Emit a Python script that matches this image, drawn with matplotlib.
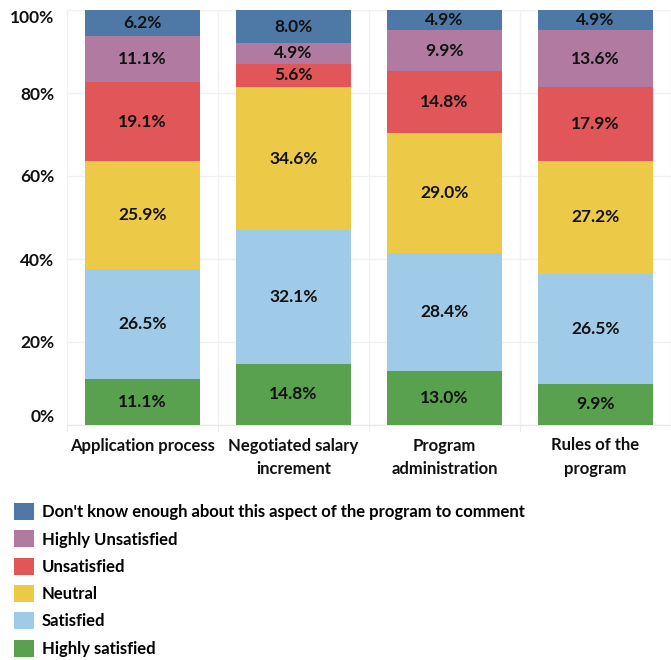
import matplotlib.pyplot as plt
import numpy as np

plt.rcParams['font.family'] = ['Lato', 'DejaVu Sans']
plt.rcParams['font.weight'] = 'bold'

categories = ["Application process", "Negotiated salary\nincrement",
              "Program\nadministration", "Rules of the\nprogram"]
levels = ["Highly satisfied", "Satisfied", "Neutral", "Unsatisfied",
          "Highly Unsatisfied",
          "Don't know enough about this aspect of the program to comment"]
colors = ["#59A14F", "#A0CBE8", "#EDC948", "#E15759", "#B07AA1", "#4E79A7"]

highly_satisfied = [11.1, 14.8, 13.0, 9.9]
satisfied = [26.5, 32.1, 28.4, 26.5]
neutral = [25.9, 34.6, 29.0, 27.2]
unsatisfied = [19.1, 5.6, 14.8, 17.9]
highly_unsatisfied = [11.1, 4.9, 9.9, 13.6]
dont_know = [6.2, 8.0, 4.9, 4.9]
series = [highly_satisfied, satisfied, neutral, unsatisfied,
          highly_unsatisfied, dont_know]

fs = 12

fig = plt.figure(figsize=(6.71, 6.60), dpi=100)
ax = fig.add_axes([67 / 671, (660 - 425) / 660, 604 / 671, 415 / 660])

x = np.arange(len(categories))
bottom = np.zeros(len(categories))
handles = []
for vals, name, col in zip(series, levels, colors):
    vals = np.array(vals)
    bars = ax.bar(x, vals, 0.755, bottom=bottom, color=col, label=name,
                  zorder=3)
    handles.append(bars)
    for xi, b, v in zip(x, bottom, vals):
        ax.text(xi, b + v / 2, f"{v:.1f}%", ha='center', va='center',
                fontsize=12.5, fontweight='bold', color='#111111', zorder=4)
    bottom += vals

ax.set_xlim(-0.5, len(categories) - 0.5)
ax.set_ylim(0, 100)
ax.set_yticks([0, 20, 40, 60, 80, 100])
ax.set_yticklabels(["0%", "20%", "40%", "60%", "80%", "100%"])
ylabels = ax.get_yticklabels()
ylabels[0].set_va('bottom')
ylabels[-1].set_va('top')
ax.set_xticks(x)
ax.set_xticklabels(categories, linespacing=1.55)
ax.set_xticks(np.arange(len(categories) + 1) - 0.5, minor=True)
ax.tick_params(axis='both', which='major', length=0, labelsize=12.5,
               colors='#111111')
ax.tick_params(axis='x', which='major', labelsize=fs, pad=9)
ax.tick_params(axis='y', which='major', pad=9)
ax.tick_params(axis='x', which='minor', length=5, color='#e6e6e6')
ax.grid(axis='y', color='#f0f0f0', linewidth=1, zorder=0)
ax.grid(axis='x', which='minor', color='#f0f0f0', linewidth=1, zorder=0)
for s in ['top', 'right']:
    ax.spines[s].set_visible(False)
ax.spines['left'].set_color('#f0f0f0')
ax.spines['bottom'].set_color('#e6e6e6')

fig.legend(handles[::-1], levels[::-1], loc='upper left',
           bbox_to_anchor=(14 / 671, (660 - 503) / 660), frameon=False,
           fontsize=fs, handlelength=1.2, handleheight=1.2,
           handletextpad=0.45, labelspacing=0.61, borderaxespad=0,
           borderpad=0)

fig.savefig("out.png", dpi=100)
